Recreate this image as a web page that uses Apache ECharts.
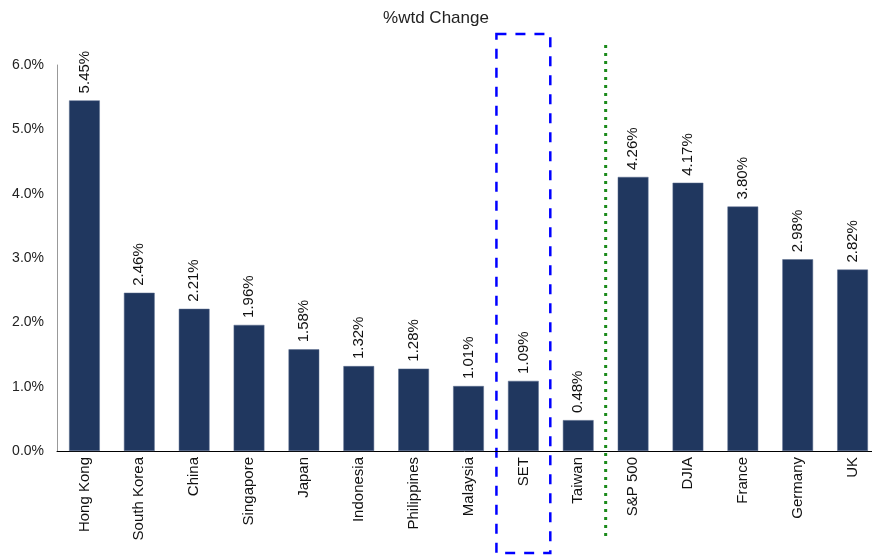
<!DOCTYPE html>
<html>
<head>
<meta charset="utf-8">
<script src="https://cdn.jsdelivr.net/npm/echarts@6/dist/echarts.min.js"></script>
<style>
  html, body { margin: 0; padding: 0; background: #fff; }
  #chart { width: 872px; height: 555px; }
</style>
</head>
<body>
<div id="chart"></div>
<script>
const categories = ['Hong Kong', 'South Korea', 'China', 'Singapore', 'Japan', 'Indonesia', 'Philippines',
  'Malaysia', 'SET', 'Taiwan', 'S&P 500', 'DJIA', 'France', 'Germany', 'UK']
const changes = [5.45, 2.46, 2.21, 1.96, 1.58, 1.32, 1.28, 1.01, 1.09, 0.48, 4.26, 4.17, 3.80, 2.98, 2.82]
const yTicks = [0, 1, 2, 3, 4, 5, 6]

const font = 'Liberation Sans, Arial, sans-serif'
const chart = echarts.init(document.getElementById('chart'))

chart.setOption({
  animation: false,
  title: {
    text: '%wtd Change',
    left: 'center',
    top: 5,
    textStyle: { fontFamily: font, fontSize: 17, fontWeight: 'normal', color: '#222' }
  },
  grid: { left: 57, right: -8, top: 65, bottom: 104, outerBoundsMode: 'none' },
  xAxis: {
    type: 'category',
    data: categories,
    axisLine: { lineStyle: { color: '#000', width: 1 } },
    axisTick: { show: false },
    axisLabel: {
      rotate: 90,
      interval: 0,
      margin: 6,
      fontFamily: font,
      fontSize: 15,
      color: '#111'
    }
  },
  yAxis: {
    type: 'value',
    min: yTicks[0],
    max: yTicks[yTicks.length - 1],
    interval: 1,
    splitLine: { show: false },
    axisLine: { show: true, lineStyle: { color: '#999', width: 1 } },
    axisTick: { show: false },
    axisLabel: {
      margin: 13,
      fontFamily: font,
      fontSize: 14,
      color: '#222',
      formatter: v => v.toFixed(1) + '%'
    }
  },
  series: [{
    type: 'bar',
    data: changes,
    barCategoryGap: '44%',
    itemStyle: { color: '#20375f', borderColor: '#5a6d8e', borderWidth: 0.5 },
    label: {
      show: true,
      position: 'top',
      rotate: 90,
      align: 'left',
      verticalAlign: 'middle',
      distance: 7,
      fontFamily: font,
      fontSize: 15,
      color: '#111',
      formatter: p => p.value.toFixed(2) + '%'
    }
  }]
})

// annotations: dashed box around SET, dotted divider before S&P 500
const px = i => chart.convertToPixel({ xAxisIndex: 0 }, i)
const setIdx = categories.indexOf('SET')
const band = px(1) - px(0)
const setX = px(setIdx)
const divX = (px(categories.indexOf('Taiwan')) + px(categories.indexOf('S&P 500'))) / 2

chart.setOption({
  graphic: [
    {
      type: 'rect',
      shape: { x: setX - band / 2 + 0.5, y: 34, width: band - 1, height: 519 },
      style: { fill: 'none', stroke: '#0000ff', lineWidth: 2.5, lineDash: [10, 9] },
      silent: true
    },
    {
      type: 'line',
      shape: { x1: divX, y1: 45, x2: divX, y2: 540 },
      style: { stroke: '#1a8a1a', lineWidth: 3, lineDash: [3, 5] },
      silent: true
    }
  ]
})

window.addEventListener('resize', () => {
  chart.resize()
})
</script>
</body>
</html>
